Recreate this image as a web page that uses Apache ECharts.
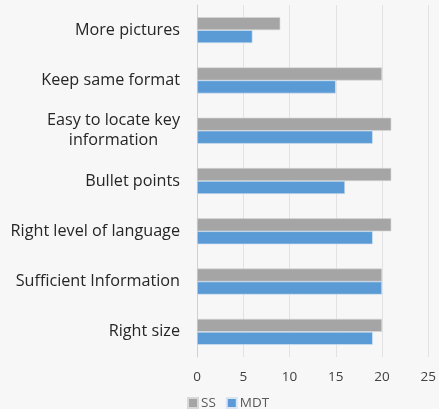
<!DOCTYPE html>
<html>
<head>
<meta charset="utf-8">
<script src="https://cdn.jsdelivr.net/npm/echarts@6/dist/echarts.min.js"></script>
<style>
html,body{margin:0;padding:0;background:#f7f7f7;}
#c{width:439px;height:409px;}
</style>
</head>
<body>
<div id="c"></div>
<script>
var categories = ['More pictures', 'Keep same format', 'Easy to locate key information', 'Bullet points', 'Right level of language', 'Sufficient Information', 'Right size'];
var ssValues = [9, 20, 21, 21, 21, 20, 20];
var mdtValues = [6, 15, 19, 16, 19, 20, 19];
var xTicks = [0, 5, 10, 15, 20, 25];

var chart = echarts.init(document.getElementById('c'));
var font = 'Open Sans';
var labelSize = 16.2;
chart.setOption({
  backgroundColor: '#f7f7f7',
  animation: false,
  grid: {left: 197, right: 7, top: 5, bottom: 52, containLabel: false},
  legend: {
    data: ['SS', 'MDT'],
    left: 187, top: 396, padding: 0,
    itemWidth: 10, itemHeight: 10, itemGap: 10,
    icon: 'rect',
    textStyle: {fontFamily: font, fontSize: 13.5, color: '#595959', padding: [0,0,0,-2]}
  },
  xAxis: {
    type: 'value', min: 0, max: 25, interval: 5,
    axisLine: {show: false}, axisTick: {show: false},
    splitLine: {lineStyle: {color: '#e2e2e2', width: 1}},
    axisLabel: {fontFamily: font, fontSize: 13.5, color: '#404040', margin: 13,
      formatter: function (v) { return xTicks.indexOf(v) >= 0 ? String(v) : ''; }}
  },
  yAxis: {
    type: 'category', data: categories, inverse: true,
    axisLine: {show: true, lineStyle: {color: '#d0d0d0'}},
    axisTick: {show: false},
    axisLabel: {
      fontFamily: font, fontSize: labelSize, color: '#262626', margin: 17, lineHeight: 21,
      formatter: function (v) {
        if (v === 'Easy to locate key information') {
          return '{c|Easy to locate key}\n{c|information}';
        }
        return v;
      },
      rich: {c: {fontFamily: font, fontSize: labelSize, color: '#262626', width: 133, align: 'center', lineHeight: 20}}
    }
  },
  series: [
    {name: 'SS', type: 'bar', data: ssValues, barWidth: 13, barGap: '0%',
     itemStyle: {color: '#a5a5a5', borderColor: '#d8d8d8', borderWidth: 0.6}},
    {name: 'MDT', type: 'bar', data: mdtValues, barWidth: 13, barGap: '0%',
     itemStyle: {color: '#5b9bd5', borderColor: '#d8e6f3', borderWidth: 0.6}}
  ]
});
</script>
</body>
</html>
